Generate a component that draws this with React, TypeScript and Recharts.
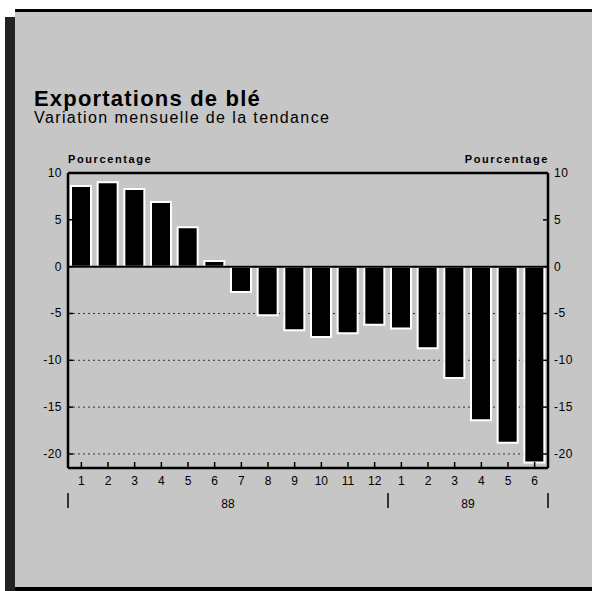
import React from 'react';
import {
  BarChart,
  Bar,
  XAxis,
  YAxis,
  CartesianGrid,
  ReferenceLine,
} from 'recharts';

const months = ['1', '2', '3', '4', '5', '6', '7', '8', '9', '10', '11', '12', '1', '2', '3', '4', '5', '6'];
const values = [8.6, 9.0, 8.3, 6.9, 4.2, 0.6, -2.7, -5.2, -6.8, -7.5, -7.1, -6.2, -6.6, -8.7, -11.9, -16.4, -18.8, -20.9];
const yTicks = [-20, -15, -10, -5, 0, 5, 10];
const gridValues = [-20, -15, -10, -5];
// year label sits at the right edge of this month index, separators at band edges
const yearLabelAfter: Record<number, string> = { 5: '88', 14: '89' };
const breakBefore = [0];
const breakAfter = [11, 17];

const data = months.map((m, i) => ({ idx: i, month: m, value: values[i] }));

const FONT = '"Liberation Sans", Arial, sans-serif';
const BG = '#c6c6c6';

function LeftTick({ x, y, payload }: any) {
  return (
    <g>
      <line x1={x + 6} x2={x + 11} y1={y} y2={y} stroke="#000" strokeWidth={1.5} />
      <text x={x} y={y} dy={4} textAnchor="end" fontSize={12} fontFamily={FONT} fill="#000" letterSpacing={0.5}>
        {payload.value}
      </text>
    </g>
  );
}

function RightTick({ x, y, payload }: any) {
  return (
    <g>
      <line x1={x - 11} x2={x - 6} y1={y} y2={y} stroke="#000" strokeWidth={1.5} />
      <text x={x} y={y} dy={4} textAnchor="start" fontSize={12} fontFamily={FONT} fill="#000" letterSpacing={0.5}>
        {payload.value}
      </text>
    </g>
  );
}

function MonthTick({ x, y, payload }: any) {
  return (
    <g>
      <line x1={x} x2={x} y1={y - 8} y2={y - 14} stroke="#000" strokeWidth={1.5} />
      <text x={x} y={y} dy={9} textAnchor="middle" fontSize={12} fontFamily={FONT} fill="#000">
        {months[payload.value]}
      </text>
    </g>
  );
}

function YearTick({ x, y, payload, index }: any) {
  const half = payload.offset || 0;
  const parts: React.ReactNode[] = [];
  if (breakBefore.includes(index)) {
    parts.push(<line key="b" x1={x - half} x2={x - half} y1={y + 1} y2={y + 16} stroke="#000" strokeWidth={1.5} />);
  }
  if (breakAfter.includes(index)) {
    parts.push(<line key="a" x1={x + half} x2={x + half} y1={y + 1} y2={y + 16} stroke="#000" strokeWidth={1.5} />);
  }
  if (yearLabelAfter[index]) {
    parts.push(
      <text key="t" x={x + half} y={y} dy={16} textAnchor="middle" fontSize={12} fontFamily={FONT} fill="#000">
        {yearLabelAfter[index]}
      </text>
    );
  }
  return <g>{parts}</g>;
}

export default function App() {
  return (
    <div
      style={{
        position: 'absolute',
        left: 0,
        top: 0,
        width: 592,
        height: 591,
        background: '#fff',
        overflow: 'hidden',
        fontFamily: FONT,
      }}
    >
      {/* frame */}
      <div style={{ position: 'absolute', left: 5, top: 17, width: 10, height: 574, background: '#222' }} />
      <div style={{ position: 'absolute', left: 15, top: 9, width: 577, height: 3, background: '#000' }} />
      <div style={{ position: 'absolute', left: 15, top: 587, width: 577, height: 4, background: '#000' }} />
      <div style={{ position: 'absolute', left: 15, top: 12, width: 577, height: 575, background: BG }} />

      <div style={{ position: 'absolute', left: 34, top: 86, fontSize: 22, fontWeight: 'bold', color: '#000', letterSpacing: 1.2 }}>
        Exportations de blé
      </div>
      <div style={{ position: 'absolute', left: 34, top: 109, fontSize: 16, color: '#000', letterSpacing: 1.4 }}>
        Variation mensuelle de la tendance
      </div>
      <div style={{ position: 'absolute', left: 68, top: 153, fontSize: 11, fontWeight: 'bold', color: '#000', letterSpacing: 1.6 }}>
        Pourcentage
      </div>
      <div
        style={{
          position: 'absolute',
          right: 592 - 549,
          top: 153,
          fontSize: 11,
          fontWeight: 'bold',
          color: '#000',
          letterSpacing: 1.6,
        }}
      >
        Pourcentage
      </div>

      <div style={{ position: 'absolute', left: 0, top: 0 }}>
        <BarChart
          width={592}
          height={591}
          data={data}
          margin={{ top: 173, right: 0, bottom: 69, left: 0 }}
          barCategoryGap={0}
        >
          <CartesianGrid
            yAxisId="l"
            xAxisId="m"
            horizontal
            vertical={false}
            horizontalValues={gridValues}
            stroke="#333"
            strokeDasharray="2 3"
          />
          <XAxis
            xAxisId="m"
            dataKey="idx"
            height={24}
            tickSize={0}
            tickMargin={8}
            tick={<MonthTick />}
            tickLine={false}
            axisLine={{ stroke: '#000', strokeWidth: 2.5 }}
            interval={0}
          />
          <XAxis
            xAxisId="yr"
            dataKey="idx"
            height={30}
            tickSize={0}
            tickMargin={0}
            tick={<YearTick />}
            tickLine={false}
            axisLine={false}
            interval={0}
          />
          <YAxis
            yAxisId="l"
            width={68}
            domain={[-21.5, 10]}
            ticks={yTicks}
            tickSize={0}
            tickMargin={6}
            tick={<LeftTick />}
            tickLine={false}
            axisLine={{ stroke: '#000', strokeWidth: 2.5 }}
            interval={0}
            allowDataOverflow
          />
          <YAxis
            yAxisId="r"
            orientation="right"
            width={44}
            domain={[-21.5, 10]}
            ticks={yTicks}
            tickSize={0}
            tickMargin={6}
            tick={<RightTick />}
            tickLine={false}
            axisLine={{ stroke: '#000', strokeWidth: 2.5 }}
            interval={0}
            allowDataOverflow
          />
          <ReferenceLine yAxisId="l" xAxisId="m" y={10} stroke="#000" strokeWidth={2.5} />
          <ReferenceLine yAxisId="l" xAxisId="m" y={0} stroke="#000" strokeWidth={2} />
          <Bar
            xAxisId="m"
            yAxisId="l"
            dataKey="value"
            fill="#000"
            stroke="#fff"
            strokeWidth={2}
            barSize={20}
            isAnimationActive={false}
          />
        </BarChart>
      </div>
    </div>
  );
}
